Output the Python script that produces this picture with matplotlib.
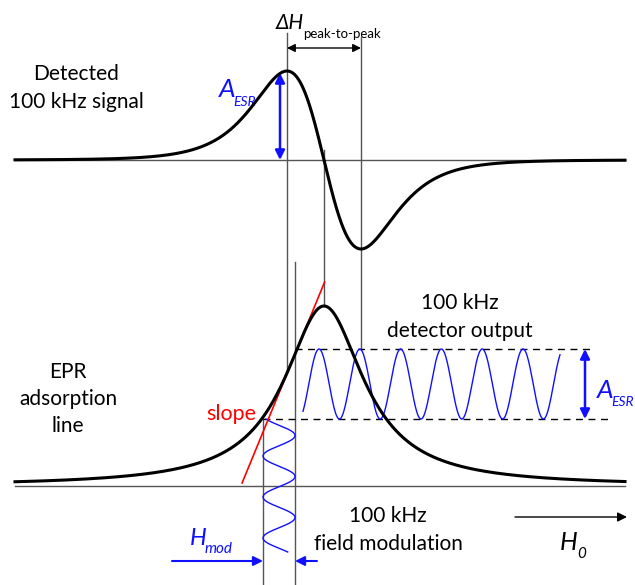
import matplotlib.pyplot as plt
import numpy as np

# drawing is laid out in pixel units (x = field, y grows downwards)
W, H = 635, 585

# line shape parameters
h_res = 324            # resonance field
abs_width = 48         # lorentzian half width of absorption line
abs_height = 180       # absorption peak height
deriv_pp = [287, 361]  # field of derivative max / min (peak-to-peak)
deriv_amp = 89         # derivative extremum height
pearson_m = 2.5        # shape exponent of detected derivative
base_top = 160         # baseline of detected signal
base_bot = 486         # baseline of absorption line
field_range = [15, 625]

# modulation / detector output
mod_lo, mod_hi = 263, 295      # field modulation limits
out_hi, out_lo = 349, 419      # detector output limits
out_period = 40.8
out_phase = 319
out_span = [303, 560]
mod_period = 41
mod_phase = 435.5
mod_span = [419, 552]

BLUE = '#1010ff'
RED = '#ff0000'
GREY = '#555555'
FONT = ['Lato', 'DejaVu Sans']

fig = plt.figure(figsize=(W / 100, H / 100), dpi=100)
ax = fig.add_axes([0, 0, 1, 1])
ax.set_xlim(0, W)
ax.set_ylim(H, 0)
ax.axis('off')

x = np.linspace(field_range[0], field_range[1], 2000)

# absorption line (lorentzian)
u = (x - h_res) / abs_width
absorb = 1 / (1 + u ** 2)
ax.plot(x, base_bot - abs_height * absorb, color='black', lw=2.2, zorder=4)

# detected derivative signal (pearson VII derivative)
half_pp = (deriv_pp[1] - deriv_pp[0]) / 2
g = half_pp * np.sqrt(2 * pearson_m + 1)
def dshape(v):
    return -v * (1 + v ** 2) ** (-(pearson_m + 1))
v0 = -1 / np.sqrt(2 * pearson_m + 1)
deriv = dshape((x - h_res) / g) / dshape(v0)
ax.plot(x, base_top - deriv_amp * deriv, color='black', lw=2.2, zorder=4)

# baselines
ax.plot(field_range, [base_top, base_top], color=GREY, lw=1)
ax.plot(field_range, [base_bot, base_bot], color=GREY, lw=1)

# guide lines
infl = h_res - abs_width / np.sqrt(3)
vlines = [(deriv_pp[0], 33, 370), (deriv_pp[1], 37, out_hi),
          (h_res, 150, base_bot - abs_height), (mod_hi, 262, H), (mod_lo, out_lo, H)]
for xv, y0, y1 in vlines:
    ax.plot([xv, xv], [y0, y1], color=GREY, lw=1, zorder=2)

# tangent at the inflection point
slope = abs_height * (2 / np.sqrt(3)) / (1 + 1 / 3) ** 2 / abs_width
y_inf = base_bot - abs_height * 0.75
ty = np.array([282, 483])
ax.plot(infl + (y_inf - ty) / slope, ty, color=RED, lw=1.2, zorder=3)

# dashed limits of detector output
ax.plot([mod_hi, 590], [out_hi, out_hi], color='black', lw=1, ls=(0, (5, 4)))
ax.plot([mod_lo, 610], [out_lo, out_lo], color='black', lw=1, ls=(0, (5, 4)))

# 100 kHz detector output
xo = np.linspace(out_span[0], out_span[1], 600)
mid = (out_hi + out_lo) / 2
amp = (out_lo - out_hi) / 2
ax.plot(xo, mid - amp * np.cos(2 * np.pi * (xo - out_phase) / out_period), color=BLUE, lw=1)

# 100 kHz field modulation
ym = np.linspace(mod_span[0], mod_span[1], 400)
xc = (mod_lo + mod_hi) / 2
xa = (mod_hi - mod_lo) / 2
ax.plot(xc + xa * np.cos(2 * np.pi * (ym - mod_phase) / mod_period), ym, color=BLUE, lw=1)

def arrow(p0, p1, style, color, lw=1.2, ms=14):
    ax.annotate('', xy=p1, xytext=p0,
                arrowprops=dict(arrowstyle=style, color=color, lw=lw, mutation_scale=ms,
                                shrinkA=0, shrinkB=0))

# peak-to-peak width
arrow((deriv_pp[0], 48), (deriv_pp[1], 48), '<|-|>', 'black', lw=1, ms=12)
# signal amplitudes
arrow((280, 73), (280, base_top), '<|-|>', BLUE, lw=1.8, ms=14)
arrow((585, out_hi), (585, out_lo), '<|-|>', BLUE, lw=1.8, ms=14)
# modulation amplitude
arrow((172, 561), (mod_lo, 561), '-|>', BLUE, lw=1.5, ms=14)
arrow((317, 561), (mod_hi, 561), '-|>', BLUE, lw=1.5, ms=14)
# field direction
arrow((515, 517), (627, 517), '-|>', 'black', lw=1, ms=14)

# labels
txt = dict(family=FONT, ha='center', va='center', linespacing=1.45)
ax.text(76, 88, 'Detected\n100 kHz signal', fontsize=15, **txt)
ax.text(68, 399, 'EPR\nadsorption\nline', fontsize=15, **txt)
ax.text(460, 317, '100 kHz\ndetector output', fontsize=15, **txt)
ax.text(388, 530, '100 kHz\nfield modulation', fontsize=15, **txt)
ax.text(256, 414, 'slope', fontsize=15.5, color=RED, family=FONT, ha='right', va='center')

it = dict(family=FONT, style='italic', va='baseline')
ax.text(219, 97, 'A', fontsize=19, color=BLUE, ha='left', **it)
ax.text(233, 106, 'ESR', fontsize=10, color=BLUE, ha='left', **it)
ax.text(597, 398, 'A', fontsize=19, color=BLUE, ha='left', **it)
ax.text(611, 406, 'ESR', fontsize=10, color=BLUE, ha='left', **it)
ax.text(190, 545, 'H', fontsize=17, color=BLUE, ha='left', **it)
ax.text(205, 553, 'mod', fontsize=11, color=BLUE, ha='left', **it)
ax.text(560, 550, 'H', fontsize=18, color='black', ha='left', **it)
ax.text(577, 558, '0', fontsize=11, color='black', ha='left', **it)
ax.text(276, 29, '\u0394H', fontsize=15, color='black', ha='left', **it)
ax.text(303, 38, 'peak-to-peak', fontsize=9.5, color='black', ha='left', family=FONT, va='baseline')

fig.savefig('out.png', dpi=100)
